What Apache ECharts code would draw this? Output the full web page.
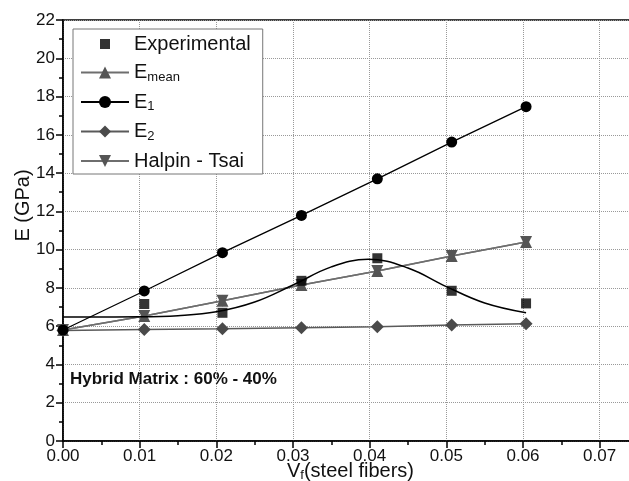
<!DOCTYPE html>
<html>
<head>
<meta charset="utf-8">
<script src="https://cdn.jsdelivr.net/npm/echarts@6/dist/echarts.min.js"></script>
<style>
  html, body { margin: 0; padding: 0; background: #fff; }
  #chart { width: 629px; height: 481px; }
</style>
</head>
<body>
<div id="chart"></div>
<script>
// Volume fraction of steel fibers at each measured composition
const vf = [0, 0.0106, 0.0208, 0.0311, 0.041, 0.0507, 0.0604];

// Young's modulus (GPa)
const experimental = [7.16, 6.70, 8.37, 9.55, 7.85, 7.19];
const eMean = [5.80, 6.53, 7.33, 8.15, 8.88, 9.67, 10.40];
const e1 = [5.80, 7.84, 9.84, 11.79, 13.70, 15.62, 17.47];
const e2 = [5.78, 5.83, 5.86, 5.92, 5.97, 6.06, 6.13];
const halpinTsai = [5.80, 6.53, 7.33, 8.15, 8.88, 9.67, 10.40];

// Fitted trend through the experimental points
const fitX = [0, 0.01, 0.015, 0.02, 0.025, 0.03, 0.035, 0.0398, 0.045, 0.05, 0.055, 0.0604];
const fitY = [6.48, 6.49, 6.55, 6.75, 7.26, 8.15, 9.10, 9.50, 9.04, 8.07, 7.21, 6.70];

// Axis ticks
const xTicks = { min: 0, max: 0.075, step: 0.01 };
const yTicks = { min: 0, max: 22, step: 2 };

const FONT = '"Liberation Sans", Arial, Helvetica, sans-serif';
const pairs = (xs, ys, offset) => ys.map((y, i) => [xs[i + (offset || 0)], y]);

// Small filled square centred in a 48x15 legend slot
const legendSquare = 'path://M0,0L0,0M48,15L48,15M19,2.5L29,2.5L29,12.5L19,12.5Z';

const chart = echarts.init(document.getElementById('chart'), null, { renderer: 'canvas' });

const subRich = {
  m: { fontSize: 20, fontFamily: FONT, color: '#111', lineHeight: 22 },
  s: { fontSize: 13, fontFamily: FONT, color: '#111', lineHeight: 8, verticalAlign: 'bottom' }
};

chart.setOption({
  animation: false,
  backgroundColor: '#fff',
  grid: {
    left: 63, top: 20, width: 575, height: 421,
    outerBoundsMode: 'none',
    containLabel: false,
    show: true, borderColor: '#000', borderWidth: 1.5, backgroundColor: 'transparent'
  },
  legend: {
    orient: 'vertical',
    left: 73, top: 29,
    padding: [5, 12, 3, 7],
    itemGap: 8.5,
    itemWidth: 48,
    itemHeight: 15,
    borderColor: '#777',
    borderWidth: 1,
    backgroundColor: '#fff',
    data: [
      { name: 'Experimental', icon: legendSquare },
      'E_mean', 'E_1', 'E_2', 'Halpin - Tsai'
    ],
    formatter: function (name) {
      if (name.indexOf('E_') === 0) return '{m|E}{s|' + name.slice(2) + '}';
      return '{m|' + name + '}';
    },
    textStyle: { fontSize: 20, fontFamily: FONT, color: '#111', rich: subRich }
  },
  xAxis: {
    type: 'value',
    min: xTicks.min, max: xTicks.max, interval: xTicks.step,
    name: '{v|V}{s|f}{v|(steel fibers)}',
    nameLocation: 'middle',
    nameGap: 19,
    nameMoveOverlap: false,
    nameTextStyle: {
      rich: {
        v: { fontSize: 20, fontFamily: FONT, color: '#111', lineHeight: 22 },
        s: { fontSize: 13, fontFamily: FONT, color: '#111', lineHeight: 8, verticalAlign: 'bottom' }
      }
    },
    axisLine: { onZero: false, lineStyle: { color: '#000', width: 1.5 } },
    axisTick: { inside: false, length: 7, lineStyle: { color: '#000', width: 1.5 } },
    minorTick: { show: true, splitNumber: 2, length: 4, lineStyle: { color: '#000', width: 1.5 } },
    axisLabel: {
      margin: 7, fontSize: 17, fontFamily: FONT, color: '#111',
      showMaxLabel: false,
      formatter: v => v.toFixed(2)
    },
    splitLine: { show: true, lineStyle: { color: '#999', type: 'dotted', width: 1 } }
  },
  yAxis: {
    type: 'value',
    min: yTicks.min, max: yTicks.max, interval: yTicks.step,
    name: 'E (GPa)',
    nameLocation: 'middle',
    nameGap: 30,
    nameMoveOverlap: false,
    nameTextStyle: { fontSize: 20, fontFamily: FONT, color: '#111', padding: [0, 0, 0, 50] },
    axisLine: { onZero: false, lineStyle: { color: '#000', width: 1.5 } },
    axisTick: { inside: false, length: 7, lineStyle: { color: '#000', width: 1.5 } },
    minorTick: { show: true, splitNumber: 2, length: 4, lineStyle: { color: '#000', width: 1.5 } },
    axisLabel: { margin: 8, fontSize: 17, fontFamily: FONT, color: '#111' },
    splitLine: { show: true, lineStyle: { color: '#999', type: 'dotted', width: 1 } }
  },
  graphic: [{
    type: 'text',
    left: 70, top: 371,
    style: {
      text: 'Hybrid Matrix : 60% - 40%',
      fontSize: 17, fontWeight: 'bold', fontFamily: FONT, fill: '#111'
    }
  }],
  series: [
    {
      name: 'Fit', type: 'line', data: pairs(fitX, fitY), smooth: 0.4,
      showSymbol: false, z: 3,
      lineStyle: { color: '#000', width: 1.5 }
    },
    {
      name: 'E_2', type: 'line', data: pairs(vf, e2),
      symbol: 'diamond', symbolSize: 13, z: 2,
      lineStyle: { color: '#5a5a5a', width: 1.5 },
      itemStyle: { color: '#4a4a4a' }
    },
    {
      name: 'E_mean', type: 'line', data: pairs(vf, eMean),
      symbol: 'triangle', symbolSize: 12, z: 2,
      lineStyle: { color: '#6e6e6e', width: 1.5 },
      itemStyle: { color: '#555' }
    },
    {
      name: 'Halpin - Tsai', type: 'line', data: pairs(vf, halpinTsai),
      symbol: 'triangle', symbolRotate: 180, symbolSize: 12, z: 2,
      lineStyle: { color: '#6e6e6e', width: 1.5 },
      itemStyle: { color: '#555' }
    },
    {
      name: 'E_1', type: 'line', data: pairs(vf, e1),
      symbol: 'circle', symbolSize: 11, z: 4,
      lineStyle: { color: '#000', width: 1.3 },
      itemStyle: { color: '#000' }
    },
    {
      name: 'Experimental', type: 'scatter', data: pairs(vf, experimental, 1),
      symbol: 'rect', symbolSize: 10, z: 5,
      itemStyle: { color: '#000' }
    }
  ]
});
</script>
</body>
</html>
